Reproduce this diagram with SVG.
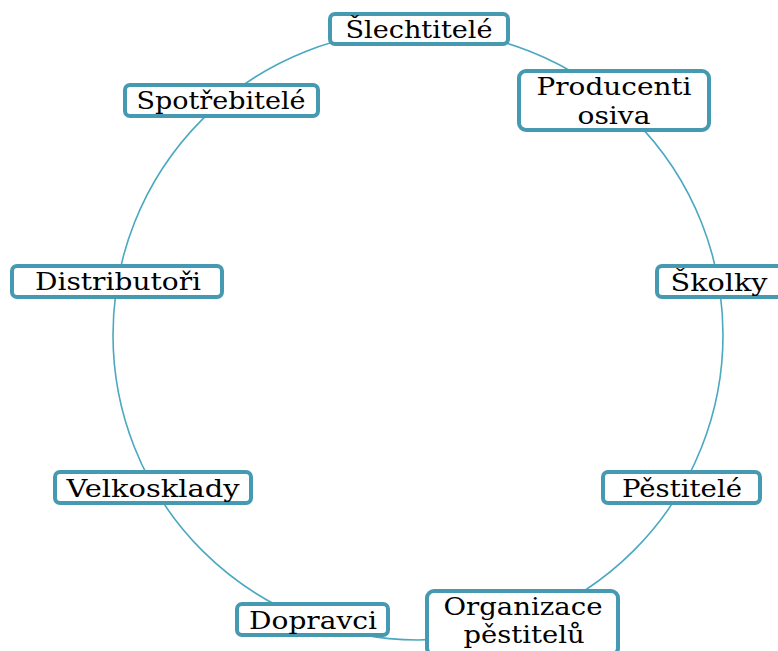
<svg xmlns="http://www.w3.org/2000/svg" width="778" height="651" viewBox="0 0 778 651">
<style>
.box{fill:#fff;stroke:#4599b1;stroke-width:4}
.t{font-family:"DejaVu Serif",serif;font-size:24px;fill:#000;text-anchor:middle}
.ring{fill:none;stroke:#4aa8c0;stroke-width:1.6}
</style>
<rect width="778" height="651" fill="#fff"/>
<g id="connectors"><circle class="ring" cx="418" cy="335" r="305"/></g>
<g id="n1"><rect class="box" x="330" y="14" width="178" height="30" rx="5"/><text class="t" x="419" y="38" textLength="147" lengthAdjust="spacingAndGlyphs">Šlechtitelé</text></g>
<g id="n2"><rect class="box" x="519" y="71" width="190" height="59" rx="7"/><text class="t" x="614" y="95" textLength="155" lengthAdjust="spacingAndGlyphs">Producenti</text><text class="t" x="614" y="124" textLength="73" lengthAdjust="spacingAndGlyphs">osiva</text></g>
<g id="n3"><rect class="box" x="657" y="266" width="125" height="31" rx="5"/><text class="t" x="719" y="291" textLength="97" lengthAdjust="spacingAndGlyphs">Školky</text></g>
<g id="n4"><rect class="box" x="603" y="472" width="157" height="31" rx="5"/><text class="t" x="682" y="497" textLength="120" lengthAdjust="spacingAndGlyphs">Pěstitelé</text></g>
<g id="n5"><rect class="box" x="427" y="591" width="191" height="64" rx="7"/><text class="t" x="523" y="615" textLength="159" lengthAdjust="spacingAndGlyphs">Organizace</text><text class="t" x="524" y="643" textLength="121" lengthAdjust="spacingAndGlyphs">pěstitelů</text></g>
<g id="n6"><rect class="box" x="237" y="604" width="151" height="31" rx="5"/><text class="t" x="313" y="629" textLength="128" lengthAdjust="spacingAndGlyphs">Dopravci</text></g>
<g id="n7"><rect class="box" x="55" y="472" width="196" height="31" rx="5"/><text class="t" x="153" y="497" textLength="173" lengthAdjust="spacingAndGlyphs">Velkosklady</text></g>
<g id="n8"><rect class="box" x="12" y="266" width="210" height="31" rx="5"/><text class="t" x="118" y="290" textLength="166" lengthAdjust="spacingAndGlyphs">Distributoři</text></g>
<g id="n9"><rect class="box" x="125" y="85" width="193" height="31" rx="5"/><text class="t" x="221" y="109" textLength="169" lengthAdjust="spacingAndGlyphs">Spotřebitelé</text></g>
</svg>
